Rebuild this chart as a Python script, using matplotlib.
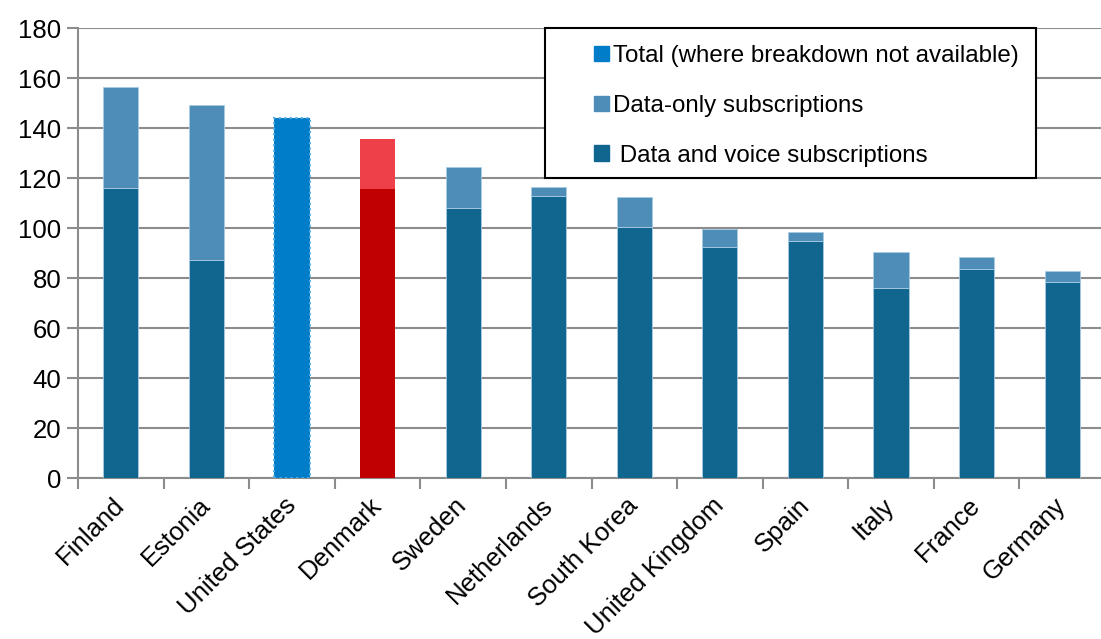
import numpy as np
import matplotlib.pyplot as plt
from matplotlib.patches import Patch, Rectangle

plt.rcParams['font.family'] = ['Liberation Sans', 'DejaVu Sans']

countries = ['Finland', 'Estonia', 'United States', 'Denmark', 'Sweden', 'Netherlands',
             'South Korea', 'United Kingdom', 'Spain', 'Italy', 'France', 'Germany']
data_voice = [116, 87.2, 0, 115.5, 108, 112.9, 100.5, 92.5, 95, 76, 83.5, 78.5]
data_only = [40.5, 62, 0, 20, 16.4, 3.4, 12, 7.2, 3.4, 14.3, 5, 4.3]
total_only = [0, 0, 144, 0, 0, 0, 0, 0, 0, 0, 0, 0]

dark = '#11668F'
light = '#4D8DB8'
tot_col = '#007DC8'
red_dark = '#C00000'
red_light = '#EE4049'

fig = plt.figure(figsize=(11.01, 6.39), dpi=100)
ax = fig.add_axes([78 / 1101, 1 - 478 / 639, 1027 / 1101, 450 / 639])

x = np.arange(len(countries))
w = 0.41
c_dark = [red_dark if c == 'Denmark' else dark for c in countries]
c_light = [red_light if c == 'Denmark' else light for c in countries]
edges = ['none' if c == 'Denmark' else '#A8CBE2' for c in countries]

ax.bar(x, data_voice, w, color=c_dark, edgecolor=edges, linewidth=0.6, zorder=3)
ax.bar(x, data_only, w, bottom=data_voice, color=c_light, edgecolor=edges, linewidth=0.6, zorder=3)
tx = [i for i, v in enumerate(total_only) if v > 0]
tv = [v for v in total_only if v > 0]
ax.bar(tx, tv, w, color=tot_col, edgecolor='#55AEE6', linestyle=':', linewidth=1.5, zorder=3)

ax.set_xlim(-0.5, 11.5)
ax.set_ylim(0, 180)
ax.set_yticks(range(0, 181, 20))
ax.yaxis.grid(True, color='#8C8C8C', linewidth=1.5)
ax.set_axisbelow(True)

ax.set_xticks(x)
ax.set_xticklabels(countries, rotation=45, ha='right', va='center', rotation_mode='anchor', fontsize=18.5)
ax.set_xticks(np.arange(-0.5, 12, 1), minor=True)
ax.tick_params(axis='x', which='major', length=0, pad=17)
ax.tick_params(axis='x', which='minor', length=8, width=1.5, color='#8C8C8C', direction='out')
ax.tick_params(axis='y', labelsize=18.5, length=8, width=1.5, color='#8C8C8C', pad=4)

for s in ['top', 'right']:
    ax.spines[s].set_visible(False)
for s in ['left', 'bottom']:
    ax.spines[s].set_color('#8C8C8C')
    ax.spines[s].set_linewidth(1.5)

# legend box
fig.patches.append(Rectangle((545 / 1101, 1 - 178 / 639), 491 / 1101, 150 / 639,
                             transform=fig.transFigure, facecolor='white',
                             edgecolor='black', linewidth=1.5, zorder=5))
handles = [Patch(color=tot_col), Patch(color=light), Patch(color=dark)]
labels = ['Total (where breakdown not available)', 'Data-only subscriptions',
          ' Data and voice subscriptions']
leg = fig.legend(handles, labels, loc='upper left', bbox_to_anchor=(582 / 1101, 1 - 33 / 639),
                 frameon=False, fontsize=17.4, handlelength=0.6, handleheight=0.6,
                 handletextpad=0.2, labelspacing=1.15, borderpad=0)
leg.set_zorder(6)

fig.savefig('out.png', dpi=100)
